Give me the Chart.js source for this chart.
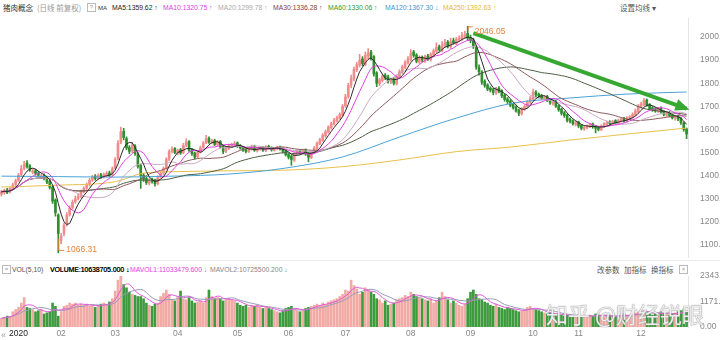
<!DOCTYPE html>
<html>
<head>
<meta charset="utf-8">
<script src="https://cdn.jsdelivr.net/npm/chart.js@4.4.0/dist/chart.umd.min.js"></script>
<style>
  body { margin: 0; width: 720px; height: 340px; background: #fff; position: relative; overflow: hidden;
         font-family: "Liberation Sans", "Noto Sans CJK SC", sans-serif; }
  .t { position: absolute; font-size: 6.8px; line-height: 10px; white-space: nowrap; color: #333; }
  .cjk { font-family: "Noto Sans CJK SC", sans-serif; font-size: 7.5px; }
  .box { position: absolute; width: 7px; height: 7px; border: 1px solid #bbb; font-size: 6px; line-height: 7px;
         text-align: center; color: #999; }
  #main { position: absolute; left: 0; top: 18px; width: 720px; height: 240px; }
  #vol { position: absolute; left: 0; top: 270px; width: 720px; height: 70px; }
  .sep { position: absolute; left: 0; width: 720px; height: 1px; background: #ececec; }
  .wm { position: absolute; left: 546px; top: 298px; font-size: 22px; line-height: 30px; color: rgba(255,255,255,0.85);
        font-family: "Noto Sans CJK SC", sans-serif; text-shadow: 0 0 1px #8a8a8a, 0 0 1px #8a8a8a; z-index: 5; }
</style>
</head>
<body>
<!-- price panel header -->
<span class="t cjk" style="left:3px;top:3px">猪肉概念</span>
<span class="t cjk" style="left:37px;top:3px;color:#999">(日线 前复权)</span>
<span class="box" style="left:87px;top:3px">?</span>
<span class="t" style="left:98px;top:3px;font-size:6px">MA</span>
<span class="t" style="left:112px;top:3px;color:#222">MA5:1359.62 ↑</span>
<span class="t" style="left:163px;top:3px;color:#e040e0">MA10:1320.75 ↑</span>
<span class="t" style="left:218px;top:3px;color:#aaa">MA20:1299.78 ↑</span>
<span class="t" style="left:273px;top:3px;color:#8b3a3a">MA30:1336.28 ↑</span>
<span class="t" style="left:328px;top:3px;color:#2f9a2f">MA60:1330.06 ↑</span>
<span class="t" style="left:385px;top:3px;color:#3f95cf">MA120:1367.30 ↓</span>
<span class="t" style="left:443px;top:3px;color:#e8b830">MA250:1392.63 ↑</span>
<span class="t cjk" style="left:620px;top:3px;color:#555">设置均线 ▾</span>

<div id="main"><canvas id="priceChart"></canvas></div>
<div class="sep" style="top:260px"></div>

<!-- volume panel header -->
<span class="box" style="left:2px;top:265px">=</span>
<span class="t" style="left:12px;top:265px;color:#555">VOL(5,10)</span>
<span class="t" style="left:50px;top:265px;color:#000;text-shadow:0.3px 0 0 #000">VOLUME:10638705.000 ↓</span>
<span class="t" style="left:130px;top:265px;color:#e040e0">MAVOL1:11033479.600 ↓</span>
<span class="t" style="left:210px;top:265px;color:#888">MAVOL2:10725500.200 ↓</span>
<span class="t cjk" style="left:597px;top:265px;color:#555">改参数</span>
<span class="t cjk" style="left:624px;top:265px;color:#555">加指标</span>
<span class="t cjk" style="left:651px;top:265px;color:#555">换指标</span>
<span class="box" style="left:679px;top:265px">×</span>

<div id="vol"><canvas id="volChart"></canvas></div>
<span class="t" style="left:1px;top:330px;color:#999;font-size:9px">«</span>
<div class="wm">知乎 @财经锐眼</div>

<script>
// daily candles, late Dec 2019 to Dec 2020
const opens = [
  1320, 1328, 1338, 1330, 1346, 1362, 1380, 1405, 1432, 1455,
  1442, 1415, 1422, 1412, 1395, 1400, 1392, 1375, 1350, 1295,
  1230, 1120, 1150, 1190, 1232, 1262, 1288, 1302, 1312, 1332,
  1346, 1362, 1382, 1398, 1390, 1404, 1396, 1402, 1412, 1404,
  1432, 1475, 1545, 1592, 1560, 1522, 1508, 1528, 1492, 1445,
  1402, 1388, 1368, 1382, 1378, 1366, 1396, 1412, 1432, 1472,
  1506, 1518, 1498, 1512, 1500, 1532, 1548, 1512, 1498, 1482,
  1502, 1522, 1542, 1562, 1544, 1552, 1534, 1548, 1528, 1506,
  1518, 1528, 1534, 1542, 1530, 1522, 1512, 1504, 1514, 1527,
  1508, 1514, 1522, 1508, 1527, 1522, 1510, 1516, 1524, 1518,
  1506, 1492, 1484, 1466, 1494, 1506, 1498, 1512, 1497, 1478,
  1502, 1518, 1538, 1553, 1572, 1588, 1608, 1622, 1638, 1648,
  1662, 1702, 1742, 1792, 1818, 1858, 1878, 1905, 1882, 1918,
  1935, 1915, 1845, 1798, 1812, 1835, 1828, 1806, 1818, 1798,
  1828, 1848, 1868, 1888, 1902, 1935, 1922, 1892, 1912, 1898,
  1918, 1902, 1922, 1938, 1958, 1942, 1962, 1978, 1958, 1984,
  1972, 1988, 1992, 2002, 2015, 1998, 1988, 1955, 1868, 1848,
  1808, 1792, 1778, 1772, 1758, 1778, 1768, 1748, 1732, 1722,
  1708, 1698, 1684, 1668, 1688, 1698, 1718, 1732, 1762, 1752,
  1748, 1732, 1742, 1728, 1712, 1722, 1702, 1688, 1672, 1662,
  1645, 1638, 1622, 1632, 1618, 1602, 1608, 1613, 1624, 1614,
  1608, 1598, 1612, 1622, 1632, 1622, 1638, 1626, 1638, 1648,
  1636, 1648, 1652, 1662, 1678, 1698, 1708, 1728, 1708, 1694,
  1688, 1678, 1692, 1678, 1662, 1672, 1662, 1648, 1658, 1648,
  1628, 1602
];
const closes = [
  1330, 1335, 1328, 1345, 1360, 1378, 1402, 1430, 1448, 1440,
  1425, 1420, 1410, 1402, 1398, 1390, 1372, 1350, 1290, 1240,
  1150, 1140, 1185, 1230, 1260, 1285, 1300, 1310, 1330, 1345,
  1360, 1380, 1395, 1388, 1400, 1395, 1405, 1410, 1402, 1430,
  1470, 1540, 1590, 1565, 1520, 1505, 1530, 1495, 1440, 1400,
  1385, 1370, 1380, 1375, 1365, 1395, 1410, 1430, 1470, 1505,
  1515, 1500, 1510, 1498, 1530, 1545, 1510, 1495, 1480, 1500,
  1520, 1540, 1560, 1545, 1550, 1535, 1545, 1525, 1505, 1520,
  1530, 1535, 1540, 1528, 1520, 1510, 1505, 1515, 1525, 1510,
  1515, 1520, 1510, 1525, 1520, 1512, 1518, 1522, 1515, 1505,
  1490, 1480, 1470, 1495, 1505, 1500, 1510, 1495, 1480, 1500,
  1520, 1540, 1555, 1575, 1590, 1610, 1625, 1640, 1650, 1665,
  1700, 1740, 1790, 1820, 1860, 1880, 1900, 1885, 1920, 1930,
  1910, 1840, 1800, 1815, 1830, 1825, 1810, 1815, 1800, 1830,
  1850, 1870, 1890, 1905, 1930, 1920, 1895, 1910, 1900, 1915,
  1905, 1925, 1940, 1955, 1945, 1965, 1975, 1960, 1980, 1975,
  1990, 1995, 2005, 2010, 1995, 1985, 1960, 1870, 1850, 1805,
  1790, 1775, 1770, 1760, 1775, 1765, 1745, 1730, 1720, 1705,
  1695, 1680, 1670, 1690, 1700, 1720, 1735, 1760, 1750, 1745,
  1735, 1740, 1725, 1715, 1720, 1700, 1685, 1670, 1660, 1640,
  1635, 1625, 1630, 1615, 1605, 1610, 1615, 1620, 1612, 1605,
  1600, 1615, 1625, 1630, 1625, 1635, 1628, 1640, 1645, 1638,
  1650, 1655, 1665, 1680, 1700, 1710, 1725, 1705, 1690, 1685,
  1680, 1690, 1675, 1665, 1670, 1660, 1650, 1655, 1645, 1630,
  1600, 1580
];
const highs = [
  1338, 1342, 1345, 1350, 1368, 1385, 1410, 1445, 1462, 1465,
  1448, 1430, 1428, 1418, 1405, 1408, 1398, 1380, 1356, 1300,
  1235, 1150, 1195, 1240, 1270, 1295, 1312, 1320, 1338, 1352,
  1368, 1388, 1402, 1405, 1408, 1410, 1412, 1418, 1420, 1438,
  1478, 1552, 1610, 1605, 1568, 1530, 1545, 1535, 1500, 1450,
  1410, 1395, 1388, 1390, 1385, 1400, 1418, 1438, 1478, 1512,
  1525, 1522, 1515, 1518, 1540, 1560, 1552, 1518, 1502, 1508,
  1528, 1548, 1575, 1568, 1558, 1558, 1552, 1552, 1532, 1526,
  1536, 1540, 1548, 1546, 1535, 1526, 1516, 1520, 1532, 1532,
  1520, 1526, 1526, 1530, 1532, 1525, 1522, 1528, 1528, 1522,
  1510, 1496, 1488, 1500, 1512, 1512, 1515, 1516, 1500, 1505,
  1526, 1546, 1562, 1582, 1598, 1616, 1632, 1648, 1658, 1672,
  1708, 1752, 1800, 1835, 1870, 1890, 1925, 1915, 1935, 1950,
  1942, 1920, 1850, 1822, 1838, 1842, 1835, 1822, 1824, 1836,
  1858, 1878, 1898, 1915, 1945, 1942, 1928, 1918, 1918, 1922,
  1925, 1932, 1948, 1975, 1965, 1980, 1990, 1985, 1995, 1995,
  1998, 2005, 2020, 2025, 2046.05, 2008, 1995, 1962, 1880, 1855,
  1815, 1798, 1785, 1778, 1782, 1785, 1772, 1752, 1738, 1728,
  1712, 1702, 1688, 1695, 1706, 1725, 1742, 1775, 1768, 1758,
  1752, 1746, 1748, 1732, 1725, 1726, 1706, 1692, 1678, 1666,
  1650, 1642, 1635, 1636, 1622, 1615, 1620, 1626, 1628, 1618,
  1612, 1620, 1630, 1636, 1638, 1640, 1642, 1645, 1650, 1652,
  1656, 1660, 1672, 1688, 1708, 1718, 1735, 1732, 1712, 1700,
  1695, 1696, 1698, 1682, 1676, 1678, 1666, 1660, 1662, 1652,
  1632, 1606
];
const lows = [
  1312, 1320, 1322, 1325, 1340, 1355, 1375, 1398, 1425, 1432,
  1418, 1408, 1402, 1395, 1388, 1382, 1365, 1342, 1280, 1225,
  1066.31, 1105, 1140, 1182, 1225, 1255, 1280, 1295, 1305, 1325,
  1340, 1355, 1375, 1380, 1384, 1388, 1390, 1395, 1395, 1398,
  1428, 1468, 1538, 1555, 1512, 1495, 1500, 1488, 1432, 1345,
  1375, 1362, 1360, 1368, 1355, 1360, 1390, 1405, 1428, 1465,
  1498, 1495, 1490, 1492, 1495, 1525, 1505, 1488, 1472, 1478,
  1498, 1518, 1538, 1540, 1538, 1530, 1528, 1520, 1495, 1500,
  1512, 1522, 1530, 1522, 1515, 1505, 1498, 1500, 1510, 1505,
  1502, 1510, 1505, 1504, 1515, 1506, 1506, 1512, 1510, 1498,
  1485, 1472, 1445, 1462, 1490, 1494, 1494, 1488, 1460, 1474,
  1498, 1514, 1534, 1548, 1566, 1584, 1602, 1618, 1632, 1644,
  1655, 1695, 1735, 1780, 1810, 1850, 1870, 1875, 1875, 1905,
  1900, 1830, 1785, 1790, 1805, 1815, 1800, 1798, 1792, 1792,
  1822, 1842, 1862, 1882, 1895, 1912, 1888, 1885, 1892, 1890,
  1898, 1895, 1915, 1932, 1938, 1935, 1955, 1952, 1950, 1968,
  1965, 1980, 1985, 1995, 1985, 1975, 1950, 1860, 1835, 1795,
  1782, 1768, 1762, 1750, 1752, 1758, 1738, 1722, 1712, 1698,
  1688, 1675, 1660, 1662, 1682, 1692, 1712, 1728, 1742, 1738,
  1728, 1728, 1720, 1708, 1705, 1695, 1678, 1662, 1652, 1632,
  1628, 1618, 1615, 1608, 1598, 1596, 1602, 1608, 1605, 1585,
  1594, 1595, 1608, 1618, 1620, 1618, 1622, 1622, 1632, 1632,
  1630, 1642, 1648, 1658, 1672, 1692, 1702, 1700, 1685, 1678,
  1674, 1674, 1670, 1658, 1656, 1654, 1645, 1640, 1638, 1622,
  1592, 1560
];
const volumes = [
  400, 450, 500, 480, 700, 800, 900, 1100, 1350, 900,
  850, 800, 700, 750, 820, 600, 650, 700, 1100, 950,
  500, 700, 950, 1000, 1100, 1050, 1100, 1000, 1050, 1000,
  1050, 950, 1000, 900, 1000, 1050, 1100, 1050, 1150, 1300,
  1650, 2150, 2343, 1950, 1800, 1600, 1500, 1450, 1400, 1400,
  1300, 1100, 1000, 950, 1050, 1100, 1400, 1550, 1700, 1500,
  1250, 1200, 1400, 1650, 1300, 1250, 1350, 1200, 1100, 1150,
  1200, 1100, 1350, 1700, 1400, 1300, 1350, 1300, 1200, 1250,
  1300, 1250, 1200, 1100, 1000, 950, 1000, 900, 1000, 950,
  1000, 900, 850, 900, 850, 800, 750, 700, 650, 750,
  850, 900, 950, 800, 750, 700, 800, 850, 900, 950,
  1000, 1050, 1000, 1100, 1050, 1150, 1200, 1250, 1300, 1400,
  1500, 1700, 1650, 2150, 1900, 1750, 1500, 1600, 1800, 1700,
  1600, 1500, 1300, 1250, 1100, 1200, 1000, 1050, 1100, 1250,
  1300, 1350, 1450, 1400, 1600, 1500, 1400, 1350, 1300, 1250,
  1200, 1300, 1100, 1200, 1350, 1600, 1400, 1250, 1100, 1200,
  1100, 1000, 950, 1050, 1300, 1600, 1700, 1500, 1300, 1250,
  1150, 1100, 1000, 950, 1050, 900, 850, 800, 900, 850,
  800, 750, 700, 750, 800, 900, 950, 850, 800, 750,
  700, 650, 600, 650, 600, 550, 600, 550, 500, 550,
  500, 450, 500, 550, 500, 450, 500, 550, 500, 600,
  550, 500, 450, 500, 550, 500, 450, 500, 550, 600,
  550, 500, 600, 650, 700, 800, 750, 650, 600, 550,
  600, 650, 700, 650, 600, 550, 600, 650, 700, 750,
  800, 700
];

// long averages read at a few days only
const ma120At = [0, 20, 40, 60, 80, 100, 120, 140, 160, 180, 200, 220, 241];
const ma120 = [1398, 1396, 1394, 1398, 1407, 1433, 1481, 1567, 1649, 1714, 1736, 1753, 1762];
const ma250At = [0, 20, 40, 50, 60, 80, 100, 120, 140, 160, 180, 200, 220, 241];
const ma250 = [1351, 1359, 1374, 1411, 1417, 1421, 1424, 1439, 1468, 1504, 1525, 1554, 1580, 1606];

// hand drawn down-trend arrow
const trendAt = [166, 241];
const trendVal = [2017, 1690];

const priceTicks = [1100, 1200, 1300, 1400, 1500, 1600, 1700, 1800, 1900, 2000];
const volTicks = [0, 1171, 2343];
const monthAt = [6, 21, 40, 62, 83, 101, 121, 144, 165, 187, 203, 225];
const monthLabels = ['2020', '02', '03', '04', '05', '06', '07', '08', '09', '10', '11', '12'];

const UP = '#f08c8c', DOWN = '#2f8f2f';
const VOL_UP = '#f2aaa4', VOL_DOWN = '#3d9a3d';

const days = closes.map((_, i) => i);
const isUp = closes.map((c, i) => c >= opens[i]);

function movingAvg(src, n) {
  return src.map((_, i) => {
    const win = src.slice(Math.max(0, i - n + 1), i + 1);
    return win.reduce((a, b) => a + b, 0) / win.length;
  });
}

function sparse(at, vals) {
  const out = new Array(days.length).fill(null);
  at.forEach((i, k) => { out[i] = vals[k]; });
  return out;
}

function maLine(data, color, extra) {
  return Object.assign({
    type: 'line', data: data, borderColor: color, borderWidth: 1,
    pointRadius: 0, fill: false, tension: 0
  }, extra || {});
}

// high / low labels and the arrow head
const markers = {
  id: 'markers',
  afterDatasetsDraw(chart) {
    const { ctx, scales: { x, y } } = chart;
    ctx.save();
    ctx.strokeStyle = '#e8823a';
    ctx.fillStyle = '#e8823a';
    ctx.lineWidth = 1;
    ctx.font = '8.5px "Liberation Sans"';
    ctx.textBaseline = 'middle';

    const hi = Math.max(...highs), hiIdx = highs.indexOf(hi);
    let px = x.getPixelForValue(hiIdx), py = y.getPixelForValue(hi);
    ctx.beginPath();
    ctx.moveTo(px + 0.5, py + 4); ctx.lineTo(px + 0.5, py + 0.5); ctx.lineTo(px + 5, py + 0.5);
    ctx.stroke();
    ctx.fillText(hi.toFixed(2), px + 7, py + 5);

    const lo = Math.min(...lows), loIdx = lows.indexOf(lo);
    px = x.getPixelForValue(loIdx); py = y.getPixelForValue(lo);
    ctx.beginPath();
    ctx.moveTo(px + 0.5, py - 14); ctx.lineTo(px + 0.5, py - 2.5); ctx.lineTo(px + 6, py - 2.5);
    ctx.stroke();
    ctx.fillText(lo.toFixed(2), px + 8, py - 3);

    // arrow head at the end of the trend line
    const x0 = x.getPixelForValue(trendAt[0]), y0 = y.getPixelForValue(trendVal[0]);
    const x1 = x.getPixelForValue(trendAt[1]), y1 = y.getPixelForValue(trendVal[1]);
    const ang = Math.atan2(y1 - y0, x1 - x0);
    ctx.fillStyle = '#36a832';
    ctx.beginPath();
    ctx.moveTo(x1 + 3 * Math.cos(ang), y1 + 3 * Math.sin(ang));
    ctx.lineTo(x1 - 11 * Math.cos(ang) - 6 * Math.sin(ang), y1 - 11 * Math.sin(ang) + 6 * Math.cos(ang));
    ctx.lineTo(x1 - 11 * Math.cos(ang) + 6 * Math.sin(ang), y1 - 11 * Math.sin(ang) - 6 * Math.cos(ang));
    ctx.closePath();
    ctx.fill();
    ctx.restore();
  }
};

const priceChart = new Chart(document.getElementById('priceChart'), {
  type: 'bar',
  data: {
    labels: days,
    datasets: [
      maLine(sparse(trendAt, trendVal), '#36a832', { borderWidth: 4, spanGaps: true }),
      maLine(movingAvg(closes, 5), '#2a2a2a'),
      maLine(movingAvg(closes, 10), '#e040e0'),
      maLine(movingAvg(closes, 20), '#c9a9c0'),
      maLine(movingAvg(closes, 30), '#8b5a5a'),
      maLine(movingAvg(closes, 60), '#4d5e40'),
      maLine(sparse(ma120At, ma120), '#4aa3d8', { spanGaps: true, cubicInterpolationMode: 'monotone' }),
      maLine(sparse(ma250At, ma250), '#e9c04a', { spanGaps: true, cubicInterpolationMode: 'monotone' }),
      {
        data: opens.map((o, i) => [o, closes[i]]),
        backgroundColor: isUp.map(u => u ? UP : DOWN),
        barThickness: 2, minBarLength: 1, grouped: false
      },
      {
        data: lows.map((l, i) => [l, highs[i]]),
        backgroundColor: isUp.map(u => u ? UP : DOWN),
        barThickness: 1, grouped: false
      }
    ]
  },
  options: {
    responsive: true,
    maintainAspectRatio: false,
    animation: false,
    layout: { padding: 0 },
    plugins: { legend: { display: false }, tooltip: { enabled: false } },
    scales: {
      x: { display: false },
      y: {
        position: 'right', min: 1044, max: 2082,
        afterBuildTicks: s => { s.ticks = priceTicks.map(v => ({ value: v })); },
        afterFit: s => { s.width = 32; s.paddingTop = 0; s.paddingBottom = 0; },
        grid: { display: false },
        border: { color: '#e4e4e4' },
        ticks: { color: '#888', padding: 4, font: { size: 8.5, family: 'Liberation Sans' }, callback: v => v.toFixed(2) }
      }
    }
  },
  plugins: [markers]
});

const volChart = new Chart(document.getElementById('volChart'), {
  type: 'bar',
  data: {
    labels: days,
    datasets: [
      maLine(movingAvg(volumes, 5), '#e25ad8'),
      maLine(movingAvg(volumes, 10), '#9a9ab8'),
      {
        data: volumes,
        backgroundColor: isUp.map(u => u ? VOL_UP : VOL_DOWN),
        barThickness: 2, grouped: false
      }
    ]
  },
  options: {
    responsive: true,
    maintainAspectRatio: false,
    animation: false,
    layout: { padding: { top: 6 } },
    plugins: { legend: { display: false }, tooltip: { enabled: false } },
    scales: {
      x: {
        grid: { display: false, drawTicks: false },
        border: { display: false },
        afterBuildTicks: s => { s.ticks = monthAt.map(v => ({ value: v })); },
        afterFit: s => { s.height = 13; s.paddingLeft = 0; s.paddingRight = 0; },
        ticks: {
          autoSkip: false, maxRotation: 0, padding: 2,
          font: { size: 8.5, family: 'Liberation Sans' },
          color: c => c.index === 0 ? '#222' : '#888',
          callback: v => monthLabels[monthAt.indexOf(v)]
        }
      },
      y: {
        position: 'right', min: 0, max: 2343,
        afterBuildTicks: s => { s.ticks = volTicks.map(v => ({ value: v })); },
        afterFit: s => { s.width = 32; s.paddingTop = 0; s.paddingBottom = 0; },
        grid: { display: false },
        border: { color: '#e4e4e4' },
        ticks: { color: '#888', padding: 4, font: { size: 8.5, family: 'Liberation Sans' }, callback: v => v.toFixed(2) }
      }
    }
  }
});
</script>
</body>
</html>
